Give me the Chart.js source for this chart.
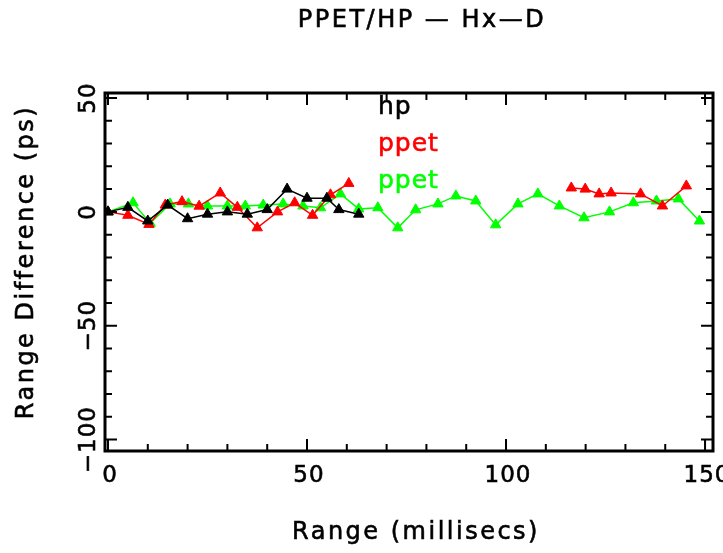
<!DOCTYPE html>
<html lang="en">
<head>
<meta charset="UTF-8">
<title>PPET/HP - Hx-D</title>
<script src="https://cdn.jsdelivr.net/npm/chart.js"></script>
<style>
    body { margin: 0; background: #fff; }
    #wrap { width: 723px; height: 553px; }
</style>
</head>
<body>
<div id="wrap"><canvas id="rangeChart" width="723" height="553"></canvas></div>
<script>
// values
const hpX = [0, 5, 10, 15, 20, 25, 30, 35, 40, 45, 50, 55, 58, 63];
const hpY = [0, 2, -4, 3, -3, -1, 0, -1, 1, 10, 6, 6, 1, -1];

const ppetRedX = [0, 5, 10.3, 14.4, 18.6, 22.9, 28.2, 32.5, 37.5, 42.6, 46.9, 51.4, 55.9, 60.5,
    null, 116.4, 119.9, 123.4, 126.4, 133.8, 139.3, 145.3];
const ppetRedY = [0, -1.5, -5.5, 3, 4.5, 2.5, 8.3, 2, -7, 0, 4, -1.5, 7.5, 12.5,
    null, 10.5, 10, 7.9, 8.3, 7.9, 2.6, 11.4];

const ppetGreenX = [0, 6.3, 10.6, 15.6, 20.2, 25, 30, 34.5, 39, 44, 49, 53.4, 58.4, 63, 67.8,
    72.8, 77.3, 82.9, 87.4, 92.4, 97.4, 103, 108, 113.4, 119.6, 126, 132, 137.8, 143.3, 148.6];
const ppetGreenY = [0, 4, -5, 3.5, 3.5, 2.6, 2.6, 2.6, 3, 3.5, 2.6, 1.8, 7.9, 1.3, 1.8,
    -7, 0.9, 3.5, 7, 4.8, -5.7, 3.5, 7.9, 2.6, -2.6, 0, 4, 4.8, 5.7, -4];

const xTicks = [0, 50, 100, 150];
const yTicks = [-100, -50, 0, 50];
const xMinorStep = 10;
const yMinorStep = 10;

function toPoints(xs, ys) {
    return xs.map((x, i) => x === null ? { x: 90, y: null } : { x: x, y: ys[i] });
}

function series(label, xs, ys, color) {
    return {
        label: label,
        data: toPoints(xs, ys),
        borderColor: color,
        backgroundColor: color,
        borderWidth: 1.5,
        pointStyle: 'triangle',
        pointRadius: 6,
        pointBorderWidth: 1,
        tension: 0,
        spanGaps: false
    };
}

const FONT = '"DejaVu Sans", sans-serif';

// filled text with a thin outline, closer to the heavy plotter strokes
function heavyText(ctx, txt, x, y) {
    ctx.fillText(txt, x, y);
    ctx.lineWidth = 0.6;
    ctx.strokeStyle = ctx.fillStyle;
    ctx.strokeText(txt, x, y);
}

// frame, ticks, labels, title and the text legend
const framePlugin = {
    id: 'frame',
    afterDraw(chart) {
        const ctx = chart.ctx;
        const a = chart.chartArea;
        const xs = chart.scales.x;
        const ys = chart.scales.y;
        ctx.save();
        ctx.strokeStyle = '#000';
        ctx.fillStyle = '#000';

        // ticks on all four sides, pointing inward
        ctx.lineWidth = 2;
        for (let v = 0; v <= 150; v += xMinorStep) {
            const px = xs.getPixelForValue(v);
            const len = xTicks.includes(v) ? 12 : 7;
            ctx.beginPath();
            ctx.moveTo(px, a.bottom); ctx.lineTo(px, a.bottom - len);
            ctx.moveTo(px, a.top); ctx.lineTo(px, a.top + len);
            ctx.stroke();
        }
        for (let v = -100; v <= 50; v += yMinorStep) {
            const py = ys.getPixelForValue(v);
            const len = yTicks.includes(v) ? 12 : 7;
            ctx.beginPath();
            ctx.moveTo(a.left, py); ctx.lineTo(a.left + len, py);
            ctx.moveTo(a.right, py); ctx.lineTo(a.right - len, py);
            ctx.stroke();
        }

        ctx.lineWidth = 3;
        ctx.strokeRect(a.left, a.top, a.right - a.left, a.bottom - a.top);

        // x tick labels
        ctx.font = '23px ' + FONT;
        ctx.letterSpacing = '1px';
        ctx.textAlign = 'center';
        ctx.textBaseline = 'middle';
        xTicks.forEach(v => {
            heavyText(ctx, String(v), xs.getPixelForValue(v) + 2, 476);
        });

        // y tick labels, rotated
        yTicks.forEach(v => {
            ctx.save();
            ctx.translate(89, ys.getPixelForValue(v));
            ctx.rotate(-Math.PI / 2);
            heavyText(ctx, v < 0 ? '\u2212' + Math.abs(v) : String(v), 0, 0);
            ctx.restore();
        });

        // axis titles
        ctx.font = '24px ' + FONT;
        ctx.letterSpacing = '2.5px';
        heavyText(ctx, 'Range (millisecs)', 416, 533);
        ctx.save();
        ctx.translate(27, 262);
        ctx.rotate(-Math.PI / 2);
        heavyText(ctx, 'Range Difference (ps)', 0, 0);
        ctx.restore();

        // title
        ctx.font = '24px ' + FONT;
        ctx.letterSpacing = '2.5px';
        heavyText(ctx, 'PPET/HP \u2014 Hx\u2014D', 422, 21);

        // legend as coloured text
        ctx.font = '25px ' + FONT;
        ctx.letterSpacing = '1px';
        ctx.textAlign = 'left';
        chart.data.datasets.forEach((ds, i) => {
            ctx.fillStyle = ds.borderColor;
            heavyText(ctx, ds.label, 378, 107 + i * 37);
        });
        ctx.restore();
    }
};

new Chart(document.getElementById('rangeChart'), {
    type: 'line',
    data: {
        datasets: [
            series('hp', hpX, hpY, '#000000'),
            series('ppet', ppetRedX, ppetRedY, '#ff0000'),
            series('ppet', ppetGreenX, ppetGreenY, '#00ff00')
        ]
    },
    options: {
        responsive: false,
        animation: false,
        layout: { padding: { left: 105, top: 93, right: 10, bottom: 102 } },
        plugins: {
            legend: { display: false },
            title: { display: false },
            tooltip: { enabled: false }
        },
        scales: {
            x: { type: 'linear', min: -0.75, max: 152, display: false },
            y: { type: 'linear', min: -105, max: 52.2, display: false }
        }
    },
    plugins: [framePlugin]
});
</script>
</body>
</html>
